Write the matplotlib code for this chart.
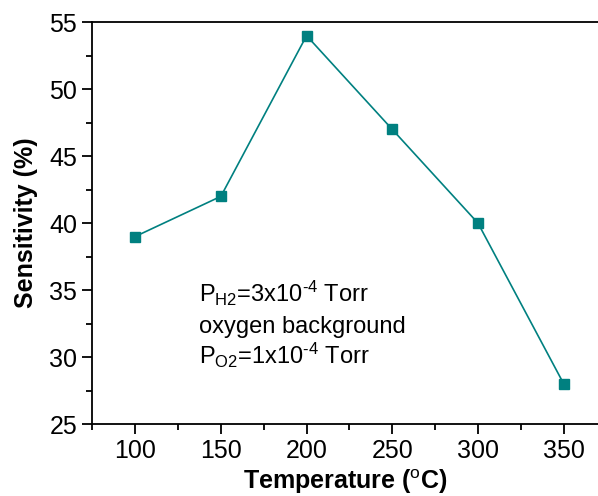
import matplotlib
matplotlib.use('Agg')
import matplotlib.pyplot as plt
from matplotlib.ticker import MultipleLocator

# ------------------- 数据 -------------------
temperature = [100, 150, 200, 250, 300, 350]
sensitivity = [39, 42, 54, 47, 40, 28]

plt.rcParams["font.family"] = ["Liberation Sans", "DejaVu Sans"]
plt.rcParams["mathtext.fontset"] = "custom"
plt.rcParams["mathtext.rm"] = "Liberation Sans"
plt.rcParams["mathtext.bf"] = "Liberation Sans:bold"
plt.rcParams["mathtext.it"] = "Liberation Sans:italic"

teal = '#008080'

fig = plt.figure(figsize=(5.98, 4.96), dpi=100)
ax = fig.add_axes([92.3 / 598, 1 - 424 / 496, (598 - 92.3) / 598, (424 - 22.3) / 496])

ax.plot(temperature, sensitivity, color=teal, lw=1.2, marker='s', markersize=7,
        markerfacecolor=teal, markeredgecolor=teal, clip_on=False)

ax.set_xlim(75, 370)
ax.set_ylim(25, 55)
ax.xaxis.set_major_locator(MultipleLocator(50))
ax.xaxis.set_minor_locator(MultipleLocator(25))
ax.yaxis.set_major_locator(MultipleLocator(5))
ax.yaxis.set_minor_locator(MultipleLocator(2.5))

for s in ['left', 'bottom', 'top']:
    ax.spines[s].set_linewidth(1.3)
ax.spines['right'].set_visible(False)

ax.tick_params(which='major', direction='out', length=7, width=1.3, labelsize=18, pad=4,
               top=False, right=False)
ax.tick_params(which='minor', direction='out', length=4, width=1.3, top=False, right=False)

ax.set_xlabel(r'Temperature ($\mathrm{^{o}}$C)', fontsize=18, fontweight='bold', labelpad=3)
ax.set_ylabel('Sensitivity (%)', fontsize=18, fontweight='bold', labelpad=8)

# 标注文字（上标用连字符）
ax.text(137.3, 34.1, r'P$_{\mathrm{H2}}$=3x10$^{\text{-4}}$ Torr', fontsize=17, ha='left', va='baseline')
ax.text(137.3, 31.8, 'oxygen background', fontsize=17, ha='left', va='baseline')
ax.text(137.3, 29.5, r'P$_{\mathrm{O2}}$=1x10$^{\text{-4}}$ Torr', fontsize=17, ha='left', va='baseline')

fig.savefig('out.png', dpi=100)
